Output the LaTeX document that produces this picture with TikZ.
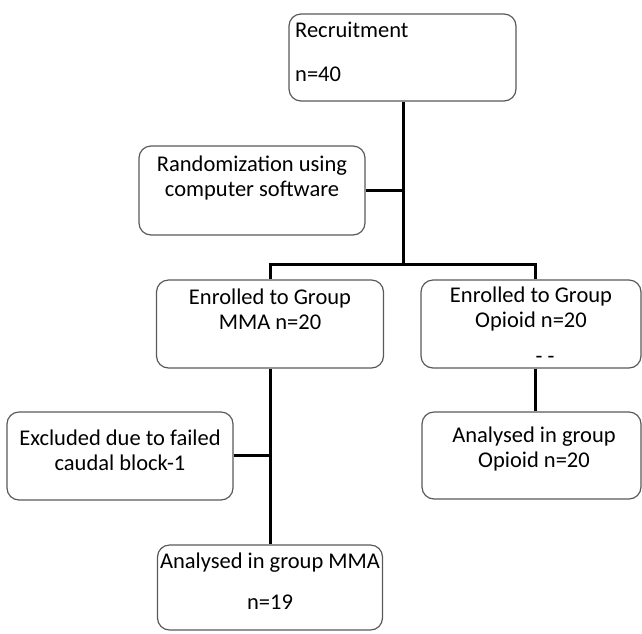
\documentclass[tikz,border=0pt]{standalone}
\usepackage{fontspec}
\setmainfont{Carlito}
\begin{document}
\begin{tikzpicture}[x=1pt,y=-1pt,
  box/.style={draw=black!65, line width=1.2pt, rounded corners=12pt, inner sep=0pt},
  conn/.style={line width=3pt},
  txt/.style={font=\fontsize{22.5}{25}\selectfont, align=center, inner sep=0pt}]
\useasboundingbox (0,0) rectangle (642,633);
% boxes
\node[box, minimum width=227pt, minimum height=87pt] (rec) at (402.5,57.5) {};
\node[box, minimum width=226pt, minimum height=89pt] (rand) at (252,190.5) {};
\node[box, minimum width=227pt, minimum height=88pt] (mma) at (270,324) {};
\node[box, minimum width=220pt, minimum height=88pt] (opi) at (531,324) {};
\node[box, minimum width=226pt, minimum height=88pt] (exc) at (120,456) {};
\node[box, minimum width=219pt, minimum height=87pt] (aopi) at (531.5,455.5) {};
\node[box, minimum width=225pt, minimum height=85pt] (amma) at (270,587.5) {};
% texts
\node[txt, anchor=west] (t1) at (295,30) {Recruitment};
\node[txt, anchor=west] (t2) at (295,74) {n=40};
\node[txt] (t3) at (252,178) {Randomization using\\computer software};
\node[txt] (t4) at (270,309) {Enrolled to Group\\MMA n=20};
\node[txt] (t5) at (531,309) {Enrolled to Group\\Opioid n=20};
\node[txt] (t5b) at (545,360) {- -};
\node[txt] (t6) at (120,450) {Excluded due to failed\\caudal block-1};
\node[txt] (t7) at (534,449) {Analysed in group\\Opioid n=20};
\node[txt] (t8) at (270,563) {Analysed in group MMA};
\node[txt] (t9) at (270,602) {n=19};
% connectors
\coordinate (bar) at (403,264);
\coordinate (barL) at (270,264);
\coordinate (barR) at (535,264);
\draw[conn] (rec.south -| bar) -- (bar);
\draw[conn] (rand.east) -- (rand.east -| bar);
\draw[conn] ([xshift=-1.5pt]barL) -- ([xshift=1.5pt]barR);
\draw[conn] (barL) -- (barL |- mma.north);
\draw[conn] (barR) -- (barR |- opi.north);
\draw[conn] (mma.south) -- (amma.north);
\draw[conn] ([yshift=1pt]exc.east) -- ([yshift=1pt]exc.east -| mma.south);
\draw[conn] (barR |- opi.south) -- (barR |- aopi.north);
\end{tikzpicture}
\end{document}
